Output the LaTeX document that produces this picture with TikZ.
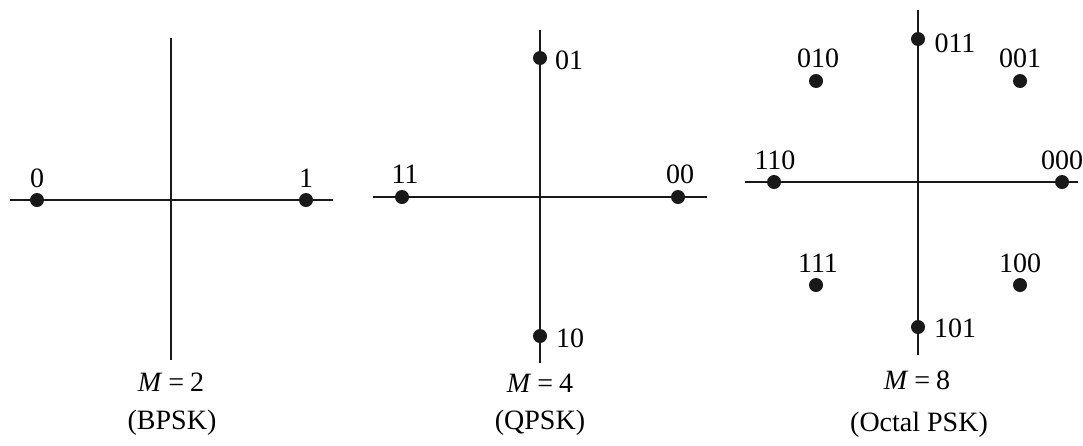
\documentclass[tikz,border=0pt]{standalone}
\usepackage{fontspec}
\setmainfont{Liberation Serif}
\newcommand{\eqsp}{\hspace{6pt}}
\begin{document}
\begin{tikzpicture}[x=1pt,y=-1pt,
  axis/.style={line width=2pt,black!90},
  pt/.style={circle,fill=black!90,inner sep=0pt,minimum size=14pt},
  lab/.style={inner sep=0pt,font=\fontsize{28}{30}\selectfont},
  captxt/.style={inner sep=0pt,font=\fontsize{28}{30}\selectfont}]
\useasboundingbox (0,0) rectangle (1083,445);
% ---------- BPSK ----------
\coordinate (bL) at (10,200); \coordinate (bR) at (333,200);
\coordinate (bT) at (171,38); \coordinate (bB) at (171,360);
\draw[axis] (bL) -- (bR);
\draw[axis] (bT) -- (bB);
\node[pt] (b0) at (37,200) {};
\node[pt] (b1) at (306,200) {};
\node[lab] (lb0) at (37,178) {0};
\node[lab] (lb1) at (306,178) {1};
\node[captxt] (bm) at (171,382) {\textit{M}\eqsp=\eqsp2};
\node[captxt] (bn) at (172,423) {(BPSK)};
% ---------- QPSK ----------
\coordinate (qL) at (373,197); \coordinate (qR) at (707,197);
\coordinate (qT) at (540,30); \coordinate (qB) at (540,363);
\draw[axis] (qL) -- (qR);
\draw[axis] (qT) -- (qB);
\node[pt] (q11) at (402,197) {};
\node[pt] (q00) at (678,197) {};
\node[pt] (q01) at (540,58) {};
\node[pt] (q10) at (540,336) {};
\node[lab] (lq11) at (405,174) {11};
\node[lab] (lq00) at (680,174) {00};
\node[lab] (lq01) at (569,60) {01};
\node[lab] (lq10) at (570,338) {10};
\node[captxt] (qm) at (540,383) {\textit{M}\eqsp=\eqsp4};
\node[captxt] (qn) at (540,423) {(QPSK)};
% ---------- 8PSK ----------
\coordinate (oL) at (745,182); \coordinate (oR) at (1078,182);
\coordinate (oT) at (918,10); \coordinate (oB) at (918,355);
\draw[axis] (oL) -- (oR);
\draw[axis] (oT) -- (oB);
\node[pt] (o011) at (918,39) {};
\node[pt] (o010) at (816,81) {};
\node[pt] (o001) at (1020,81) {};
\node[pt] (o110) at (774,182) {};
\node[pt] (o000) at (1062,182) {};
\node[pt] (o111) at (816,285) {};
\node[pt] (o100) at (1020,285) {};
\node[pt] (o101) at (918,327) {};
\node[lab] (lo011) at (955,43) {011};
\node[lab] (lo010) at (818,58) {010};
\node[lab] (lo001) at (1020,58) {001};
\node[lab] (lo110) at (775,160) {110};
\node[lab] (lo000) at (1062,160) {000};
\node[lab] (lo111) at (818,263) {111};
\node[lab] (lo100) at (1020,263) {100};
\node[lab] (lo101) at (955,328) {101};
\node[captxt] (om) at (917,380) {\textit{M}\eqsp=\eqsp8};
\node[captxt] (on) at (919,425) {(Octal PSK)};
\end{tikzpicture}
\end{document}
